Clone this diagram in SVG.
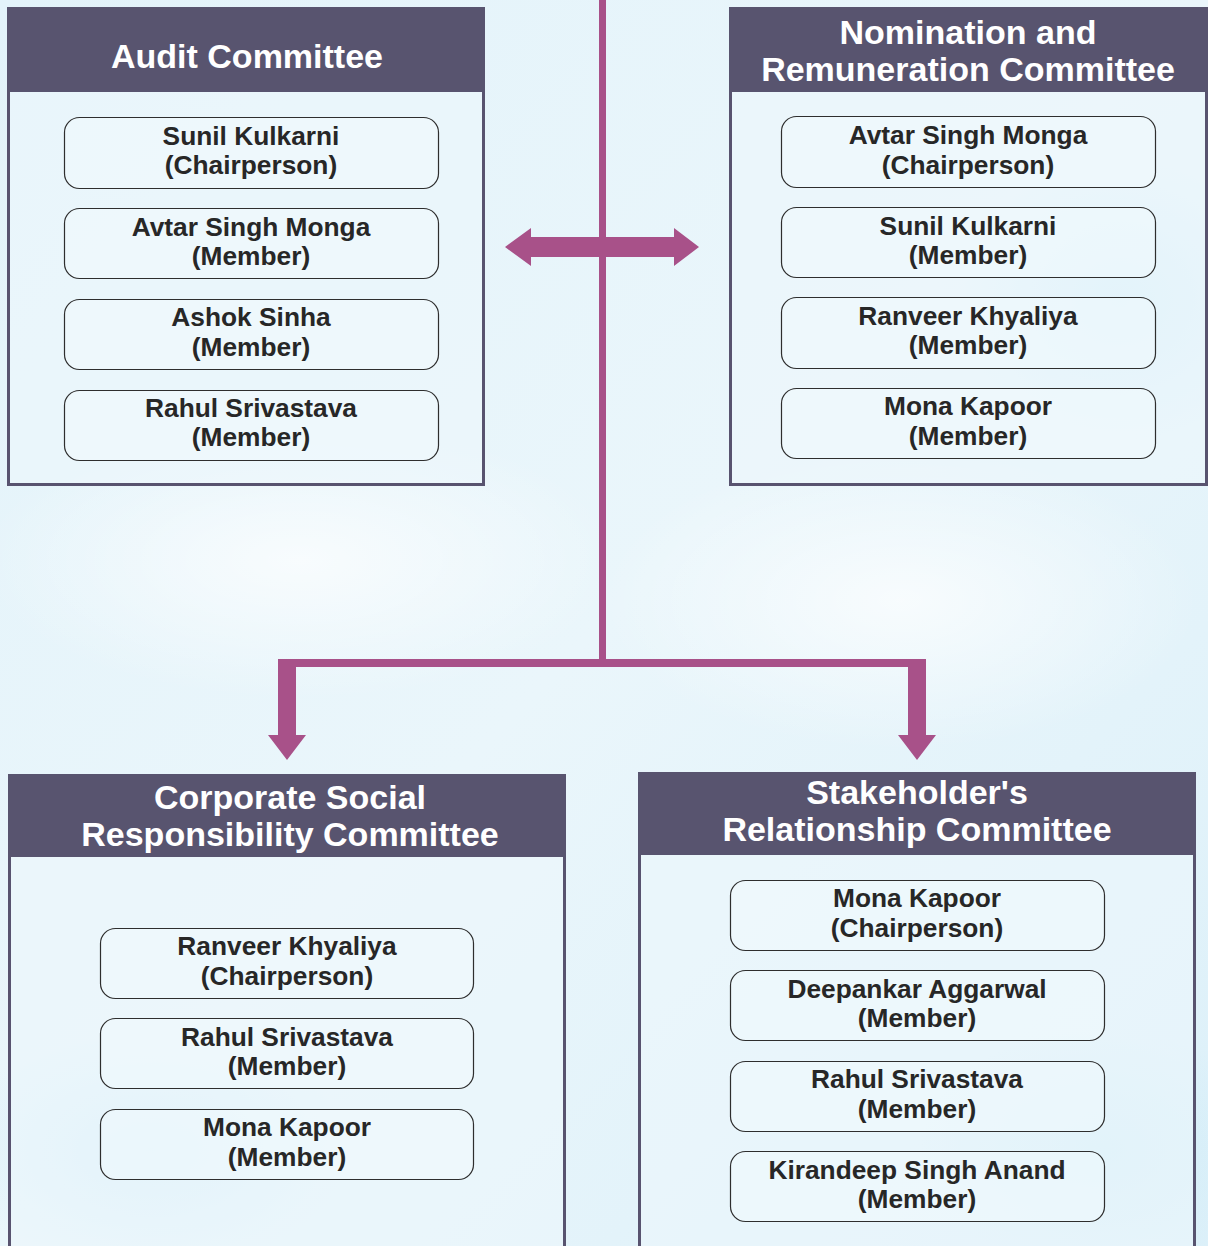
<svg xmlns="http://www.w3.org/2000/svg" width="1208" height="1246" viewBox="0 0 1208 1246">
<defs>
<linearGradient id="bg" x1="0" y1="0" x2="1" y2="1">
<stop offset="0" stop-color="#e3f3fa"/>
<stop offset="0.5" stop-color="#eaf6fb"/>
<stop offset="1" stop-color="#dcf0f9"/>
</linearGradient>
<radialGradient id="spot" cx="0.5" cy="0.5" r="0.5">
<stop offset="0" stop-color="#ffffff" stop-opacity="0.7"/>
<stop offset="1" stop-color="#ffffff" stop-opacity="0"/>
</radialGradient>
<radialGradient id="spotb" cx="0.5" cy="0.5" r="0.5">
<stop offset="0" stop-color="#cdebf7" stop-opacity="0.7"/>
<stop offset="1" stop-color="#cdebf7" stop-opacity="0"/>
</radialGradient>
<style>
.panel{fill:#edf7fb;fill-opacity:0.6;stroke:#58536f;stroke-width:3}
.head{fill:#58546f}
.title{font-family:"Liberation Sans",Arial,sans-serif;font-weight:bold;font-size:34px;fill:#ffffff;text-anchor:middle}
.mem{fill:#f0fafd;fill-opacity:0.55;stroke:#2e2e2e;stroke-width:1.2}
.name{font-family:"Liberation Sans",Arial,sans-serif;font-weight:bold;font-size:26.3px;fill:#272727;text-anchor:middle}
.conn{fill:#a85189}
</style>
</defs>
<rect x="0" y="0" width="1208" height="1246" fill="url(#bg)"/>
<ellipse cx="300" cy="560" rx="320" ry="140" fill="url(#spot)"/>
<ellipse cx="900" cy="600" rx="300" ry="150" fill="url(#spot)"/>
<ellipse cx="150" cy="1150" rx="200" ry="120" fill="url(#spotb)"/>
<ellipse cx="1100" cy="1150" rx="180" ry="120" fill="url(#spotb)"/>
<ellipse cx="1120" cy="300" rx="160" ry="140" fill="url(#spotb)"/>

<g id="connectors">
<rect class="conn" x="599" y="0" width="7" height="663"/>
<polygon class="conn" points="505,247 531,228 531,237 674,237 674,228 699,247 674,266 674,257 531,257 531,266"/>
<path class="conn" d="M278,659 H926 V735 H936 L917,760 L898,735 H908 V667 H296 V735 H306 L287,760 L268,735 H278 Z"/>
</g>

<g id="audit">
<rect class="panel" x="8.5" y="8.5" width="475" height="476"/>
<rect class="head" x="7" y="7" width="478" height="85"/>
<text class="title" x="247" y="68">Audit Committee</text>
<rect class="mem" x="64.5" y="117.5" width="374" height="71" rx="15"/>
<text class="name" x="251" y="145">Sunil Kulkarni</text>
<text class="name" x="251" y="174">(Chairperson)</text>
<rect class="mem" x="64.5" y="208.5" width="374" height="70" rx="15"/>
<text class="name" x="251" y="236">Avtar Singh Monga</text>
<text class="name" x="251" y="265">(Member)</text>
<rect class="mem" x="64.5" y="299.5" width="374" height="70" rx="15"/>
<text class="name" x="251" y="326">Ashok Sinha</text>
<text class="name" x="251" y="356">(Member)</text>
<rect class="mem" x="64.5" y="390.5" width="374" height="70" rx="15"/>
<text class="name" x="251" y="417">Rahul Srivastava</text>
<text class="name" x="251" y="446">(Member)</text>
</g>

<g id="nomination">
<rect class="panel" x="730.5" y="8.5" width="476" height="476"/>
<rect class="head" x="729" y="7" width="479" height="85"/>
<text class="title" x="968" y="44">Nomination and</text>
<text class="title" x="968" y="81">Remuneration Committee</text>
<rect class="mem" x="781.5" y="116.5" width="374" height="71" rx="15"/>
<text class="name" x="968" y="144">Avtar Singh Monga</text>
<text class="name" x="968" y="174">(Chairperson)</text>
<rect class="mem" x="781.5" y="207.5" width="374" height="70" rx="15"/>
<text class="name" x="968" y="235">Sunil Kulkarni</text>
<text class="name" x="968" y="264">(Member)</text>
<rect class="mem" x="781.5" y="297.5" width="374" height="71" rx="15"/>
<text class="name" x="968" y="325">Ranveer Khyaliya</text>
<text class="name" x="968" y="354">(Member)</text>
<rect class="mem" x="781.5" y="388.5" width="374" height="70" rx="15"/>
<text class="name" x="968" y="415">Mona Kapoor</text>
<text class="name" x="968" y="445">(Member)</text>
</g>

<g id="csr">
<rect class="panel" x="9.5" y="776.5" width="555" height="480"/>
<rect class="head" x="8" y="774" width="558" height="83"/>
<text class="title" x="290" y="809">Corporate Social</text>
<text class="title" x="290" y="846">Responsibility Committee</text>
<rect class="mem" x="100.5" y="928.5" width="373" height="70" rx="15"/>
<text class="name" x="287" y="955">Ranveer Khyaliya</text>
<text class="name" x="287" y="985">(Chairperson)</text>
<rect class="mem" x="100.5" y="1018.5" width="373" height="70" rx="15"/>
<text class="name" x="287" y="1046">Rahul Srivastava</text>
<text class="name" x="287" y="1075">(Member)</text>
<rect class="mem" x="100.5" y="1109.5" width="373" height="70" rx="15"/>
<text class="name" x="287" y="1136">Mona Kapoor</text>
<text class="name" x="287" y="1166">(Member)</text>
</g>

<g id="stakeholder">
<rect class="panel" x="639.5" y="773.5" width="555" height="483"/>
<rect class="head" x="638" y="772" width="558" height="83"/>
<text class="title" x="917" y="804">Stakeholder's</text>
<text class="title" x="917" y="841">Relationship Committee</text>
<rect class="mem" x="730.5" y="880.5" width="374" height="70" rx="15"/>
<text class="name" x="917" y="907">Mona Kapoor</text>
<text class="name" x="917" y="937">(Chairperson)</text>
<rect class="mem" x="730.5" y="970.5" width="374" height="70" rx="15"/>
<text class="name" x="917" y="998">Deepankar Aggarwal</text>
<text class="name" x="917" y="1027">(Member)</text>
<rect class="mem" x="730.5" y="1061.5" width="374" height="70" rx="15"/>
<text class="name" x="917" y="1088">Rahul Srivastava</text>
<text class="name" x="917" y="1118">(Member)</text>
<rect class="mem" x="730.5" y="1151.5" width="374" height="70" rx="15"/>
<text class="name" x="917" y="1179">Kirandeep Singh Anand</text>
<text class="name" x="917" y="1208">(Member)</text>
</g>
</svg>
